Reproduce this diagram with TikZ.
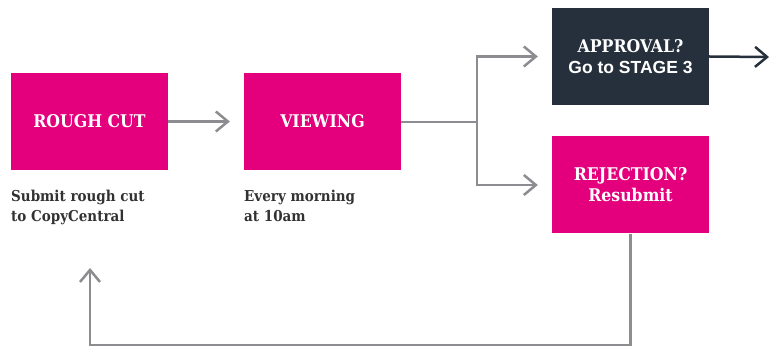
\documentclass[tikz,border=0pt]{standalone}
\usepackage{fontspec}
\setmainfont{DejaVu Serif Condensed}
\newfontfamily\boxsans{Liberation Sans}
\usetikzlibrary{arrows.meta,calc}
\definecolor{pinkbox}{RGB}{228,0,124}
\definecolor{darkbox}{RGB}{38,48,60}
\definecolor{lineg}{RGB}{140,140,145}
\definecolor{labelc}{RGB}{50,50,50}
\tikzset{
  x=1pt,y=-1pt,
  boxbase/.style={minimum width=157pt,minimum height=97pt,inner sep=0pt,align=center,text=white,font=\fontsize{17.5}{21}\selectfont\bfseries},
  pinkbox/.style={boxbase,fill=pinkbox},
  darkbox/.style={boxbase,fill=darkbox},
  label/.style={anchor=base west,inner sep=0pt,align=left,text=labelc,font=\fontsize{15}{20}\selectfont\bfseries},
  conn/.style={draw=lineg,line width=2.5pt,-{Straight Barb[length=12pt,width=20pt,line width=2.5pt]}},
  plain/.style={draw=lineg,line width=2.5pt},
  darkconn/.style={draw=darkbox,line width=2.5pt,-{Straight Barb[length=12pt,width=20pt,line width=2.5pt]}}
}
\begin{document}
\begin{tikzpicture}
\useasboundingbox (0,0) rectangle (771,347);
\node[pinkbox] (rc) at (89.5,121.5) {ROUGH CUT};
\node[pinkbox] (vw) at (322.5,121.5) {VIEWING};
\node[darkbox] (ap) at (630.5,56.5) {APPROVAL?\\{\boxsans\bfseries Go to STAGE 3}};
\node[pinkbox] (rj) at (630.5,185) {REJECTION?\\Resubmit};
\node[label] (rcl) at (11,222) {Submit rough cut\\to CopyCentral};
\node[label] (vwl) at (244,222) {Every morning\\at 10am};
\coordinate (br) at (477,122);
\coordinate (out) at (769,57);
\coordinate (fbc) at (90,345);
\coordinate (fb) at (90,268);
\draw[conn,shorten >=14pt] (rc) -- (vw);
\draw[plain] (vw.east |- br) -- (br);
\draw[conn,shorten >=14pt] (br) |- (ap);
\draw[conn,shorten >=14pt] (br) |- (rj);
\draw[darkconn] (ap.east) -- (out);
\draw[conn] (rj.south) |- (fbc) -- (fb);
\end{tikzpicture}
\end{document}
